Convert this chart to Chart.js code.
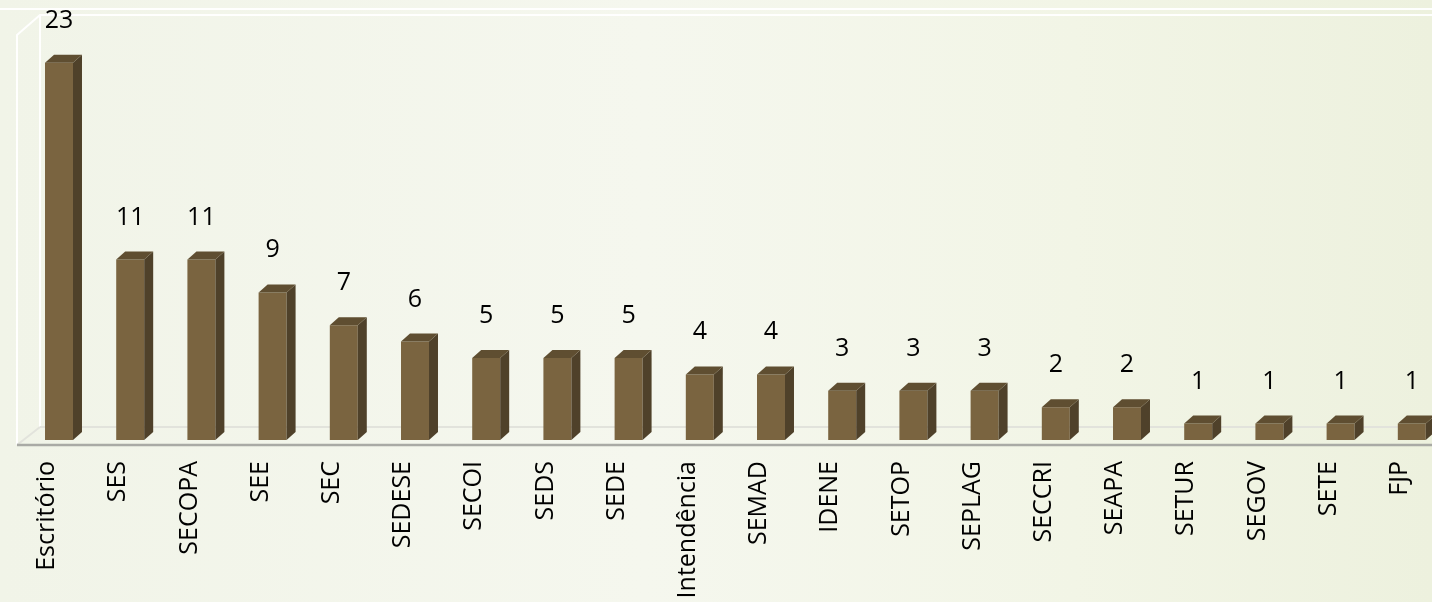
<!DOCTYPE html>
<html>
<head>
<meta charset="utf-8">
<script src="https://cdn.jsdelivr.net/npm/chart.js@4.4.1/dist/chart.umd.min.js"></script>
<style>
  html, body { margin: 0; padding: 0; width: 1432px; height: 602px; overflow: hidden; }
  body { background: linear-gradient(90deg, #f1f4e8 0%, #f5f7ee 45%, #f2f5e6 75%, #edf1de 100%); }
  #wrap { position: absolute; left: 0; top: 0; width: 1460px; height: 602px; }
</style>
</head>
<body>
<div id="wrap"><canvas id="c" width="1460" height="602"></canvas></div>
<script>
const categories = ["Escritório","SES","SECOPA","SEE","SEC","SEDESE","SECOI","SEDS","SEDE","Intendência","SEMAD","IDENE","SETOP","SEPLAG","SECCRI","SEAPA","SETUR","SEGOV","SETE","FJP"];
const values = [23,11,11,9,7,6,5,5,5,4,4,3,3,3,2,2,1,1,1,1];

const FRONT = '#7a6440', SIDE = '#4f412a', TOP = '#5f4e31';
const DX = 9, DY = 8;

const wallsPlugin = {
  id: 'walls',
  beforeDatasetsDraw(chart) {
    const { ctx, chartArea: a } = chart;
    const backY = a.bottom - 13, frontY = a.bottom + 5;
    const fx = 17, bx = 40;
    ctx.save();
    ctx.strokeStyle = 'rgba(255,255,255,0.95)';
    ctx.lineWidth = 2;
    ctx.beginPath(); ctx.moveTo(0, 9); ctx.lineTo(1460, 9); ctx.stroke();
    ctx.beginPath();
    ctx.moveTo(1460, 15); ctx.lineTo(bx, 15); ctx.lineTo(fx, 35); ctx.lineTo(fx, frontY);
    ctx.moveTo(bx, 15); ctx.lineTo(bx, backY);
    ctx.stroke();
    ctx.strokeStyle = '#e2e3dc';
    ctx.lineWidth = 2;
    ctx.beginPath(); ctx.moveTo(bx, backY); ctx.lineTo(1460, backY);
    ctx.moveTo(bx, backY); ctx.lineTo(fx, frontY); ctx.stroke();
    ctx.strokeStyle = '#a9aaa5';
    ctx.lineWidth = 2.5;
    ctx.beginPath(); ctx.moveTo(fx, frontY); ctx.lineTo(1460, frontY); ctx.stroke();
    ctx.restore();
  }
};

const bars3dPlugin = {
  id: 'bars3d',
  afterDatasetsDraw(chart) {
    const { ctx } = chart;
    const meta = chart.getDatasetMeta(0);
    ctx.save();
    meta.data.forEach((bar, i) => {
      const w = bar.width, l = bar.x - w / 2, r = bar.x + w / 2, t = bar.y, b = bar.base;
      ctx.fillStyle = SIDE;
      ctx.beginPath();
      ctx.moveTo(r, t); ctx.lineTo(r + DX, t - DY); ctx.lineTo(r + DX, b - DY); ctx.lineTo(r, b); ctx.closePath(); ctx.fill();
      ctx.fillStyle = TOP;
      ctx.beginPath();
      ctx.moveTo(l, t); ctx.lineTo(l + DX, t - DY); ctx.lineTo(r + DX, t - DY); ctx.lineTo(r, t); ctx.closePath(); ctx.fill();
      ctx.fillStyle = '#000';
      ctx.font = '25px "Open Sans", sans-serif';
      ctx.textAlign = 'center';
      ctx.textBaseline = 'alphabetic';
      ctx.fillText(String(values[i]), bar.x, t - 35);
    });
    ctx.restore();
  }
};

new Chart(document.getElementById('c'), {
  type: 'bar',
  data: {
    labels: categories,
    datasets: [{
      data: values,
      backgroundColor: FRONT,
      borderWidth: 0,
      categoryPercentage: 1,
      barPercentage: 0.393
    }]
  },
  options: {
    responsive: false,
    animation: false,
    events: [],
    layout: { padding: { left: 23.4, right: 12.6, top: 13.6, bottom: 0 } },
    plugins: { legend: { display: false }, tooltip: { enabled: false } },
    scales: {
      x: {
        grid: { display: false },
        border: { display: false },
        ticks: {
          color: '#000',
          font: { family: '"Open Sans", sans-serif', size: 25 },
          minRotation: 90, maxRotation: 90,
          padding: 13,
          labelOffset: -12,
          autoSkip: false
        },
        afterFit(scale) { scale.height = 162; }
      },
      y: {
        display: false,
        min: 0, max: 26
      }
    }
  },
  plugins: [wallsPlugin, bars3dPlugin]
});
</script>
</body>
</html>
